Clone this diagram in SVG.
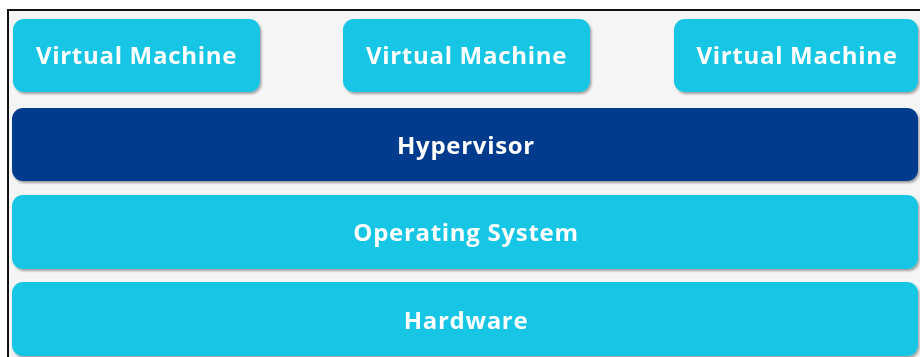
<svg xmlns="http://www.w3.org/2000/svg" width="920" height="357" viewBox="0 0 920 357">
  <style>
    .box { fill: #13c6e4; }
    .dark { fill: #003b8e; }
    .lbl { font-family: "Open Sans", "Liberation Sans", sans-serif; font-weight: bold; font-size: 24px; letter-spacing: 0.7px; fill: #ffffff; text-anchor: middle; }
  </style>
  <defs>
    <filter id="shadow" x="-5%" y="-20%" width="110%" height="150%">
      <feDropShadow dx="1.5" dy="2" stdDeviation="1.2" flood-color="#000" flood-opacity="0.35"/>
    </filter>
  </defs>
  <rect x="0" y="0" width="920" height="357" fill="#ffffff"/>
  <rect x="8" y="10" width="930" height="360" fill="#f5f5f5" stroke="#111" stroke-width="2"/>

  <g id="vm1" filter="url(#shadow)">
    <rect class="box" x="13" y="19" width="247" height="73" rx="11"/>
    <text class="lbl" x="136.5" y="64">Virtual Machine</text>
  </g>
  <g id="vm2" filter="url(#shadow)">
    <rect class="box" x="343" y="19" width="247" height="73" rx="11"/>
    <text class="lbl" x="466.5" y="64">Virtual Machine</text>
  </g>
  <g id="vm3" filter="url(#shadow)">
    <rect class="box" x="674" y="19" width="244" height="73" rx="11"/>
    <text class="lbl" x="797" y="64">Virtual Machine</text>
  </g>
  <g id="hypervisor" filter="url(#shadow)">
    <rect class="dark" x="12" y="108" width="906" height="73" rx="11"/>
    <text class="lbl" x="466" y="154">Hypervisor</text>
  </g>
  <g id="os" filter="url(#shadow)">
    <rect class="box" x="12" y="195" width="906" height="74" rx="11"/>
    <text class="lbl" x="466" y="241">Operating System</text>
  </g>
  <g id="hardware" filter="url(#shadow)">
    <rect class="box" x="12" y="282" width="906" height="74" rx="11"/>
    <text class="lbl" x="466" y="329">Hardware</text>
  </g>
  <g id="connectors"/>
</svg>
